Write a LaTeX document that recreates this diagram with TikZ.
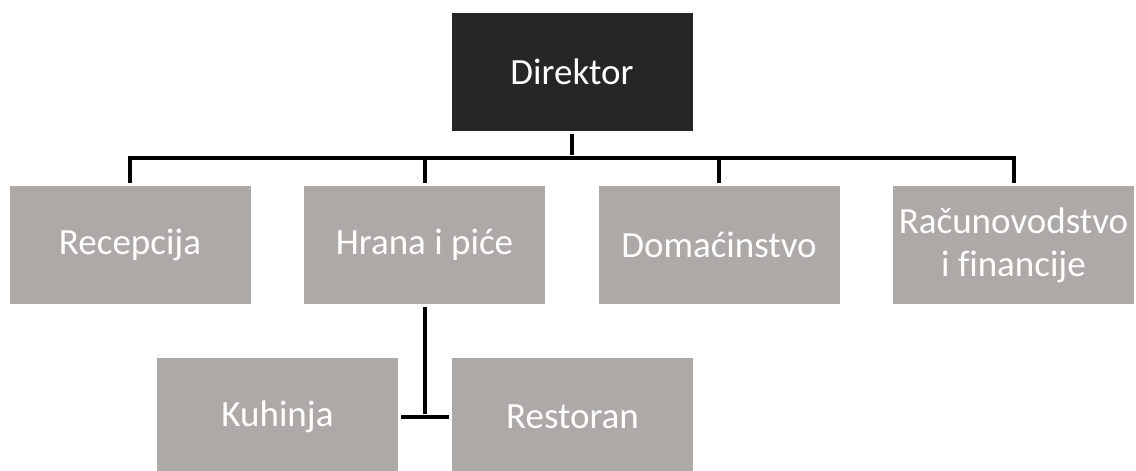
\documentclass[tikz,border=0pt]{standalone}
\usepackage{fontspec}
\setmainfont[Ligatures=CommonOff]{Carlito}
\definecolor{boss}{HTML}{262626}
\definecolor{unit}{HTML}{ADA9A7}
\tikzset{
  orgbox/.style={fill=unit, text=white, minimum width=120.5pt, minimum height=59pt,
    inner sep=0pt, align=center, font=\fontsize{18.5}{21.5}\selectfont},
  bossbox/.style={orgbox, fill=boss},
  link/.style={line width=2pt, shorten <=1.5pt, shorten >=1.5pt}
}
\begin{document}
\begin{tikzpicture}[x=0.5pt, y=-0.5pt]
\useasboundingbox (0,0) rectangle (1136,471);
\node[bossbox] (dir) at (572,72) {Direktor};
\node[orgbox] (rec) at (130,245) {Recepcija};
\node[orgbox] (hip) at (424.5,245) {Hrana i piće};
\node[orgbox] (dom) at (719,245) {Domaćinstvo};
\node[orgbox] (rac) at (1013.5,245) {Računovodstvo\\i financije};
\node[orgbox] (kuh) at (277.5,417) {Kuhinja};
\node[orgbox] (res) at (572.5,417) {Restoran};
\coordinate (bus) at (572,158);
\draw[link] (dir.south) -- (bus);
\draw[link] (rec.north) -- (rec.north |- bus) -- (rac.north |- bus) -- (rac.north);
\foreach \n in {hip,dom}
  \draw[link, shorten <=0pt] (\n.north |- bus) -- (\n.north);
\draw[link] (hip.south) -- (hip.south |- kuh.east);
\draw[link] (kuh.east) -- (res.west);
\end{tikzpicture}
\end{document}
